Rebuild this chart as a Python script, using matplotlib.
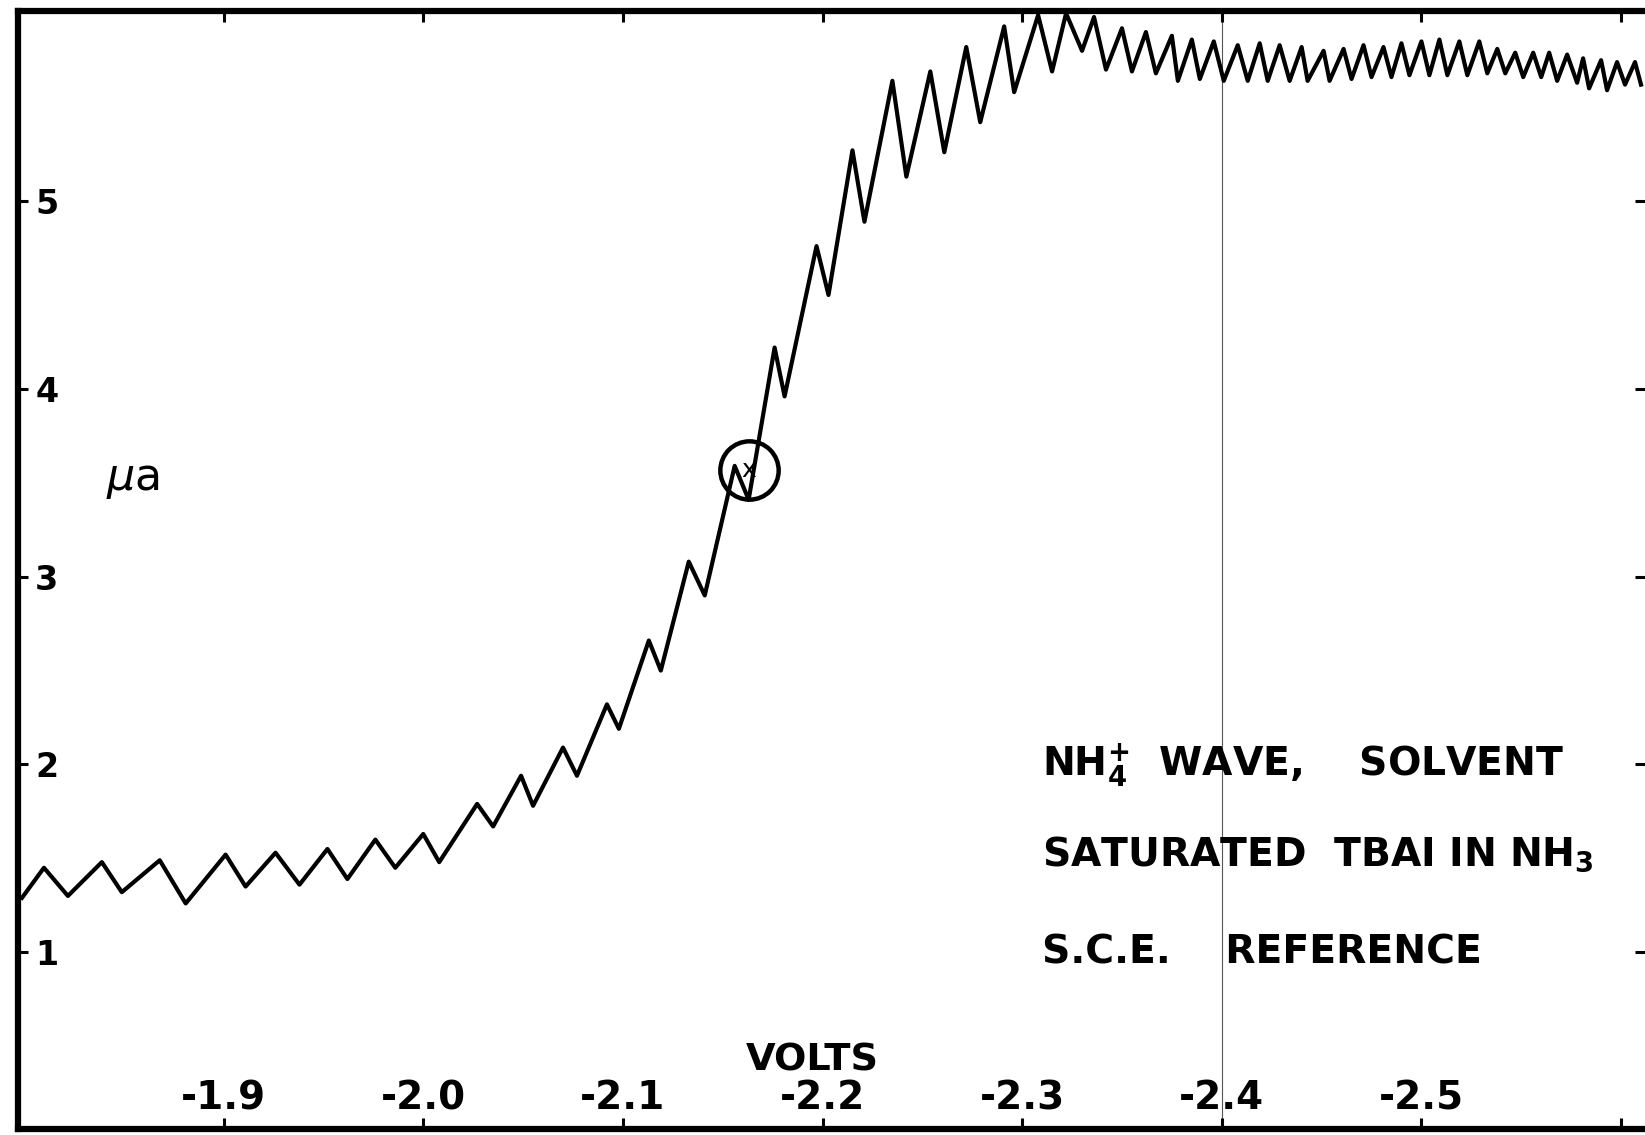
import matplotlib
matplotlib.use("Agg")
import matplotlib.pyplot as plt

# polarogram trace: drop peaks / troughs (volts vs SCE, microamps)
volts = [
    -1.799, -1.810, -1.822, -1.839, -1.849, -1.868, -1.881, -1.901, -1.911, -1.926,
    -1.938, -1.952, -1.962, -1.976, -1.986, -2.000, -2.008, -2.027, -2.035, -2.049,
    -2.055, -2.070, -2.077, -2.092, -2.098, -2.113, -2.119, -2.133, -2.141, -2.156,
    -2.163, -2.176, -2.181, -2.197, -2.203, -2.215, -2.221, -2.235, -2.242, -2.254,
    -2.261, -2.272, -2.279, -2.291, -2.296, -2.308, -2.315, -2.322, -2.330, -2.336,
    -2.342, -2.350, -2.355, -2.362, -2.367, -2.375, -2.378, -2.385, -2.389, -2.396,
    -2.401, -2.408, -2.413, -2.419, -2.423, -2.429, -2.434, -2.440, -2.443, -2.451,
    -2.454, -2.461, -2.465, -2.471, -2.475, -2.481, -2.485, -2.490, -2.494, -2.500,
    -2.504, -2.509, -2.513, -2.519, -2.523, -2.529, -2.533, -2.538, -2.542, -2.547,
    -2.551, -2.556, -2.560, -2.564, -2.568, -2.573, -2.578, -2.581, -2.584, -2.590,
    -2.593, -2.598, -2.602, -2.607, -2.610,
]
current = [
    1.29, 1.45, 1.30, 1.48, 1.32, 1.49, 1.26, 1.52, 1.35, 1.53,
    1.36, 1.55, 1.39, 1.60, 1.45, 1.63, 1.48, 1.79, 1.67, 1.94,
    1.78, 2.09, 1.94, 2.32, 2.19, 2.66, 2.50, 3.08, 2.90, 3.59,
    3.41, 4.22, 3.96, 4.76, 4.50, 5.27, 4.89, 5.64, 5.13, 5.69,
    5.26, 5.82, 5.42, 5.93, 5.58, 5.99, 5.69, 6.00, 5.80, 5.98,
    5.70, 5.92, 5.69, 5.90, 5.68, 5.88, 5.64, 5.86, 5.65, 5.85,
    5.64, 5.83, 5.64, 5.84, 5.64, 5.83, 5.64, 5.82, 5.64, 5.80,
    5.64, 5.81, 5.65, 5.83, 5.66, 5.82, 5.66, 5.84, 5.67, 5.85,
    5.67, 5.86, 5.67, 5.85, 5.67, 5.85, 5.68, 5.81, 5.68, 5.79,
    5.66, 5.79, 5.66, 5.79, 5.64, 5.78, 5.63, 5.76, 5.60, 5.75,
    5.59, 5.74, 5.62, 5.74, 5.62,
]

x_ticks = [-1.9, -2.0, -2.1, -2.2, -2.3, -2.4, -2.5, -2.6]
x_labels = ["-1.9", "-2.0", "-2.1", "-2.2", "-2.3", "-2.4", "-2.5", ""]
y_ticks = [1, 2, 3, 4, 5]
y_labels = ["1", "2", "3", "4", "5"]

half_wave = (-2.163, 3.57)  # circled point on the wave

notes = [
    r"NH$_\mathbf{4}^\mathbf{+}$  WAVE,    SOLVENT",
    r"SATURATED  TBAI IN NH$_\mathbf{3}$",
    "S.C.E.    REFERENCE",
]
note_y = [1.94, 1.46, 0.94]


def main():
    fig = plt.figure(figsize=(16.45, 11.35), dpi=100)
    ax = fig.add_axes([18 / 1645, 6 / 1135, 1 - 18 / 1645, 1118 / 1135])

    ax.plot(volts, current, color="black", lw=3.0, solid_joinstyle="round")
    ax.axvline(-2.4, color="#555555", lw=0.8, zorder=1)

    # circle + small x marking E1/2
    ax.plot(*half_wave, marker="o", ms=42, mfc="none", mec="black", mew=3.2)
    ax.text(half_wave[0], half_wave[1], "x", fontsize=18, ha="center", va="center")

    ax.set_xlim(-1.797, -2.612)
    ax.set_ylim(0.059, 6.012)

    for side in ["left", "bottom", "top"]:
        ax.spines[side].set_linewidth(4.5)
    ax.spines["right"].set_visible(False)

    ax.set_xticks(x_ticks)
    ax.set_xticklabels(x_labels)
    ax.set_yticks(y_ticks)
    ax.set_yticklabels(y_labels)
    ax.tick_params(axis="x", direction="in", length=8, width=2.2, top=True,
                   bottom=True, pad=-36, labelsize=28)
    ax.tick_params(axis="y", direction="in", length=7, width=2.2, left=True,
                   right=True, pad=-29, labelsize=24)
    for lbl in ax.get_xticklabels():
        lbl.set_fontweight("bold")
    for lbl in ax.get_yticklabels():
        lbl.set_fontweight("bold")

    ax.text(-2.195, 0.373, "VOLTS", fontsize=27.5, fontweight="bold", ha="center",
            va="baseline")
    ax.text(-1.841, 3.46, r"$\mu$a", fontsize=32, ha="left", va="baseline")

    for txt, y in zip(notes, note_y):
        ax.text(-2.310, y, txt, fontsize=28.3, fontweight="bold", ha="left",
                va="baseline")

    fig.savefig("out.png", dpi=100)


if __name__ == "__main__":
    main()
